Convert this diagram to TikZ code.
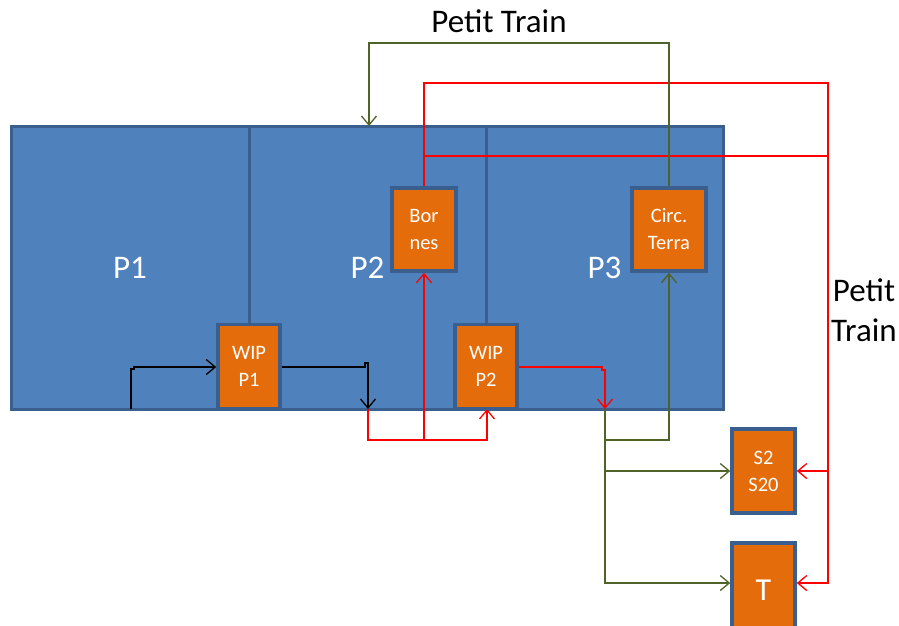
\documentclass[tikz,border=0pt]{standalone}
\usepackage{fontspec}
\setmainfont{Carlito}
\usetikzlibrary{arrows.meta}
\definecolor{panelfill}{HTML}{4F81BD}
\definecolor{paneledge}{HTML}{3A5F8E}
\definecolor{boxfill}{HTML}{E46C0A}
\definecolor{grn}{HTML}{4F6228}
\definecolor{rd}{HTML}{FF0000}
\tikzset{
  panel/.style={draw=paneledge, fill=panelfill, line width=3pt, minimum height=283pt, text=white, font=\fontsize{33}{33}\selectfont, inner sep=0pt},
  box/.style={draw=paneledge, fill=boxfill, line width=3.5pt, text=white, font=\fontsize{20.5}{27}\selectfont, align=center, inner sep=0pt},
  tip/.style={-{Straight Barb[length=9pt,width=15pt]}},
  blk/.style={draw=black, line width=1.3pt},
  redl/.style={draw=rd, line width=1.3pt},
  grnl/.style={draw=grn, line width=1.3pt},
  lbl/.style={font=\fontsize{33}{40}\selectfont, align=center}
}
\begin{document}
\begin{tikzpicture}[x=1pt,y=-1pt]
\useasboundingbox (0,0) rectangle (899,625);
% panels
\node[panel, minimum width=238pt] (p1) at (130,267.5) {P1};
\node[panel, minimum width=237pt] (p2) at (367.5,267.5) {P2};
\node[panel, minimum width=237pt] (p3) at (604.5,267.5) {P3};
% free ends
\coordinate (bs) at (131,409);
\coordinate (j1) at (368,409);
\coordinate (j2) at (605,409);
\coordinate (top2) at (369,126);
\coordinate (ra) at (424,156);
\coordinate (rb) at (828,156);
% boxes
\path (249,366.5) node[box, minimum width=62pt, minimum height=84pt] (wip1) {WIP\\P1};
\path (486,366.5) node[box, minimum width=62pt, minimum height=84pt] (wip2) {WIP\\P2};
\path (424,229.5) node[box, minimum width=64pt, minimum height=83pt] (born) {Bor\\nes};
\path (669,229.5) node[box, minimum width=74pt, minimum height=83pt] (circ) {Circ.\\Terra};
\path (763.5,471) node[box, minimum width=63pt, minimum height=84pt] (s2) {S2\\S20};
\path (763.5,590) node[box, minimum width=63pt, minimum height=94pt, font=\fontsize{32}{32}\selectfont] (t) {T};
% connectors
\draw[blk, tip] (bs) -- (131,369) -- (134,369) -- (134,367) -- (wip1.west |- 0,367);
\draw[blk, tip] (wip1.east |- 0,367) -- (365,367) -- (365,363) -- (368,363) -- (j1);
\draw[draw=rd, line width=2.3pt] (j1) -- (368,440) -- (424,440);
\draw[redl, tip] (424,440) -- (487,440) -- (487,409);
\draw[redl, tip] (424,440) -- (born.south);
\draw[redl, tip] (born.north) -- (424,83) -- (828,83) -- (828,583) -- (t.east |- 0,583);
\draw[color=rd, line width=1.3pt] (ra) -- (rb);
\draw[redl, tip] (828,471) -- (s2.east);
\draw[redl, tip] (wip2.east |- 0,367) -- (602,367) -- (602,370) -- (605,370) -- (j2);
\draw[grnl, tip] (j2) -- (605,583) -- (t.west |- 0,583);
\draw[grnl, tip] (605,471) -- (s2.west);
\draw[grnl, tip] (605,440) -- (669,440) -- (circ.south);
\draw[grnl, tip] (circ.north) -- (669,43) -- (369,43) -- (top2);
% redraw boxes on top of the lines
\path (249,366.5) node[box, minimum width=62pt, minimum height=84pt] {WIP\\P1};
\path (486,366.5) node[box, minimum width=62pt, minimum height=84pt] {WIP\\P2};
\path (424,229.5) node[box, minimum width=64pt, minimum height=83pt] {Bor\\nes};
\path (669,229.5) node[box, minimum width=74pt, minimum height=83pt] {Circ.\\Terra};
% labels
\node[lbl] (pt1) at (499,21) {Petit Train};
\node[lbl] (pt2) at (864,310) {Petit\\Train};
\end{tikzpicture}
\end{document}
